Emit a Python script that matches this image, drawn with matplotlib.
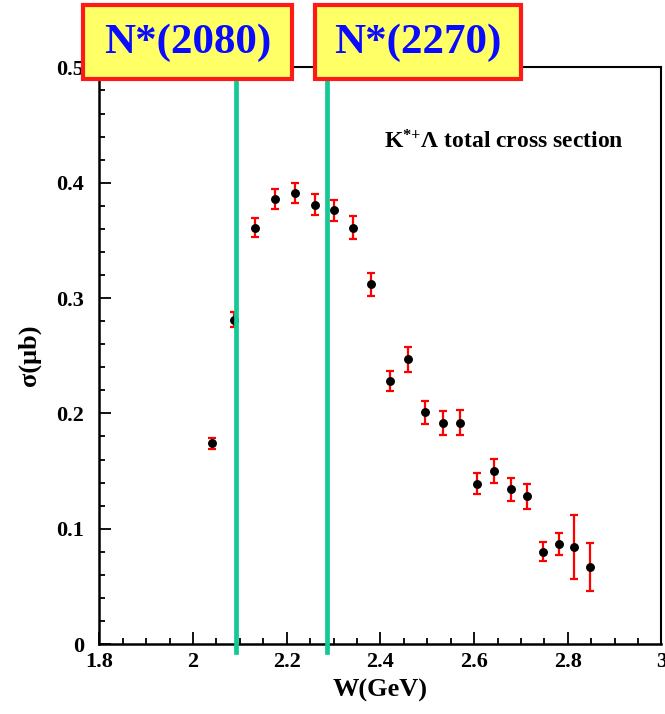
import matplotlib
matplotlib.use('Agg')
import matplotlib.pyplot as plt
from matplotlib.patches import Rectangle
from matplotlib.lines import Line2D
from matplotlib.ticker import MultipleLocator
import matplotlib.transforms as mtransforms

# K*+ Lambda total cross section data
W = [2.041, 2.088, 2.132, 2.175, 2.217, 2.260, 2.300, 2.341, 2.381, 2.420,
     2.458, 2.496, 2.534, 2.571, 2.607, 2.642, 2.678, 2.713, 2.748, 2.781,
     2.814, 2.848]
sigma = [0.174, 0.281, 0.361, 0.386, 0.391, 0.381, 0.376, 0.361, 0.312, 0.228,
         0.247, 0.201, 0.192, 0.192, 0.139, 0.150, 0.134, 0.128, 0.080, 0.087,
         0.084, 0.067]
err = [0.0045, 0.0065, 0.0082, 0.0087, 0.0088, 0.009, 0.0094, 0.010, 0.0101, 0.009,
       0.0107, 0.0098, 0.0104, 0.0111, 0.0093, 0.0103, 0.0103, 0.0107, 0.0081, 0.0094,
       0.0277, 0.021]

resonances = [2.092, 2.285]
res_labels = ['N*(2080)', 'N*(2270)']
# box left/right edges in pixels of the 665 px wide picture
box_x = [(83, 292), (315, 521)]

plt.rcParams['font.family'] = ['Liberation Serif', 'DejaVu Serif']
plt.rcParams['mathtext.fontset'] = 'custom'
plt.rcParams['mathtext.rm'] = 'Liberation Serif:bold'
plt.rcParams['mathtext.it'] = 'Liberation Serif:bold'
plt.rcParams['mathtext.bf'] = 'Liberation Serif:bold'

fig = plt.figure(figsize=(6.65, 7.14), dpi=100)
ax = fig.add_axes([0.1493, 0.098, 0.8454, 0.8076])

ax.errorbar(W, sigma, yerr=err, fmt='o', color='black', markersize=5.4,
            ecolor='red', elinewidth=1.6, capsize=3, capthick=1.6, zorder=3)

ax.set_xlim(1.8, 3.0)
ax.set_ylim(0, 0.5)
ax.xaxis.set_minor_locator(MultipleLocator(0.05))
ax.yaxis.set_minor_locator(MultipleLocator(0.02))
ax.set_xticks([1.8, 2.0, 2.2, 2.4, 2.6, 2.8, 3.0])
ax.set_xticklabels(['1.8', '2', '2.2', '2.4', '2.6', '2.8', '3'])
ax.set_yticks([0, 0.1, 0.2, 0.3, 0.4, 0.5])
ax.set_yticklabels(['0', '0.1', '0.2', '0.3', '0.4', '0.5'])
ax.tick_params(which='both', direction='in', top=False, right=False, width=1.3)
ax.tick_params(which='major', length=8.5, labelsize=16, pad=6)
ax.tick_params(axis='y', which='major', pad=11)
ax.tick_params(which='minor', length=4.5)
for lab in ax.get_xticklabels() + ax.get_yticklabels():
    lab.set_fontweight('bold')
for s in ax.spines.values():
    s.set_linewidth(1.5)
ax.spines['left'].set_linewidth(1.8)
ax.spines['bottom'].set_linewidth(1.8)

ax.set_xlabel('W(GeV)', fontsize=19, fontweight='bold', labelpad=5)
ax.set_ylabel('σ(μb)', fontsize=19, fontweight='bold', labelpad=11)

ax.text(0.72, 0.871, r'$\mathrm{K^{*{+}}\Lambda}$ total cross section',
        transform=ax.transAxes, fontsize=17, fontweight='bold', ha='center', va='center')

# resonance lines running up into the label boxes
trans = mtransforms.blended_transform_factory(ax.transData, fig.transFigure)
for r in resonances:
    ln = Line2D([r, r], [1 - 652 / 714, 1 - 70 / 714], transform=trans,
                color='#14c995', lw=3.4, clip_on=False, zorder=5)
    fig.add_artist(ln)

for (x0, x1), lab in zip(box_x, res_labels):
    rect = Rectangle((x0 / 665, 1 - 78.5 / 714), (x1 - x0) / 665, 74 / 714,
                     transform=fig.transFigure, facecolor='#ffff66',
                     edgecolor='#ff1a1a', lw=3, zorder=10)
    fig.add_artist(rect)
    fig.text((x0 + x1) / 2 / 665, 1 - 43 / 714, lab, fontsize=31, color='#0a0aff',
             fontweight='bold', ha='center', va='center', zorder=11)

fig.savefig('out.png', dpi=100)
plt.close()
